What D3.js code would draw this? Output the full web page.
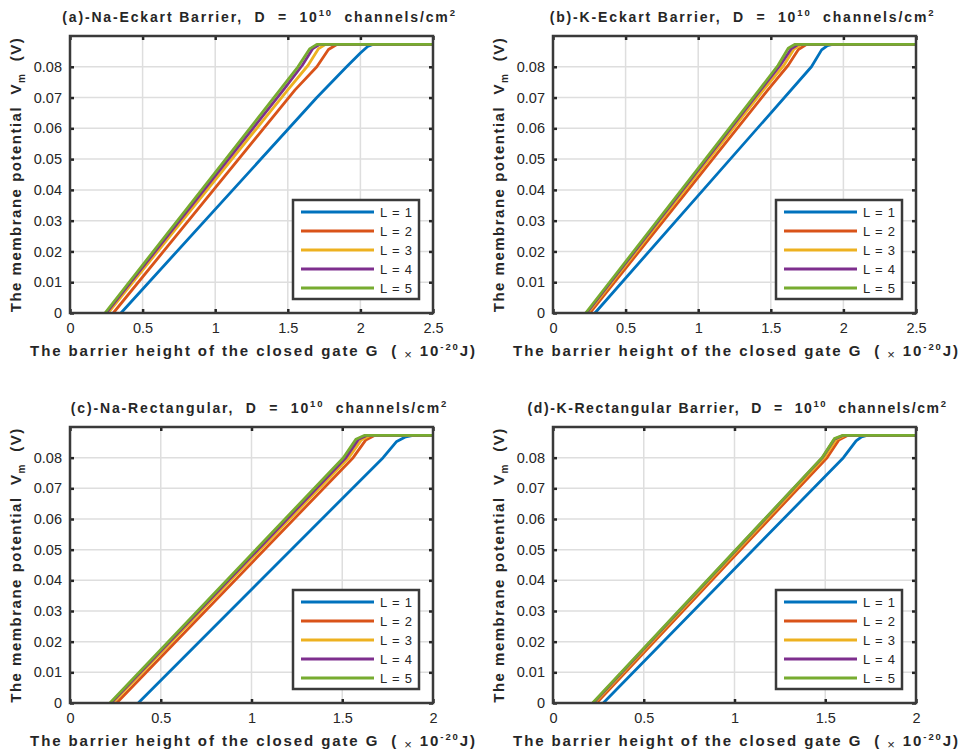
<!DOCTYPE html>
<html>
<head>
<meta charset="utf-8">
<script src="https://cdn.jsdelivr.net/npm/d3@7"></script>
<style>
body { margin: 0; background: #fff; }
svg { display: block; }
text { font-family: "Liberation Sans", Arial, sans-serif; fill: #262626; }
</style>
</head>
<body>
<script>
// legend / tick data
const legendLabels = ["L = 1", "L = 2", "L = 3", "L = 4", "L = 5"];
const yTicks = [0, 0.01, 0.02, 0.03, 0.04, 0.05, 0.06, 0.07, 0.08];
const xTicksEckart = [0, 0.5, 1, 1.5, 2, 2.5];
const xTicksRect = [0, 0.5, 1, 1.5, 2];
const titles = ["(a)-Na-Eckart Barrier,", "(b)-K-Eckart Barrier,", "(c)-Na-Rectangular,", "(d)-K-Rectangular Barrier,"];

// curves, [G, Vm], one list per L
const naEckart = [
  [[0.351, 0], [1.70, 0.070], [1.905, 0.080], [2.00, 0.0845], [2.05, 0.0866], [2.09, 0.0873], [2.5, 0.0873]],
  [[0.298, 0], [1.55, 0.0725], [1.70, 0.080], [1.78, 0.0856], [1.84, 0.0873], [2.5, 0.0873]],
  [[0.262, 0], [1.50, 0.0725], [1.64, 0.0805], [1.71, 0.0858], [1.76, 0.0873], [2.5, 0.0873]],
  [[0.250, 0], [1.47, 0.0725], [1.60, 0.0805], [1.67, 0.0858], [1.72, 0.0873], [2.5, 0.0873]],
  [[0.241, 0], [1.446, 0.0725], [1.57, 0.080], [1.65, 0.0858], [1.70, 0.0873], [2.5, 0.0873]]
];
const kEckart = [
  [[0.289, 0], [1.78, 0.080], [1.85, 0.0855], [1.89, 0.0869], [1.925, 0.0873], [2.5, 0.0873]],
  [[0.255, 0], [1.48, 0.0725], [1.62, 0.0805], [1.69, 0.0856], [1.747, 0.0873], [2.5, 0.0873]],
  [[0.240, 0], [1.45, 0.0725], [1.59, 0.0805], [1.66, 0.0858], [1.713, 0.0873], [2.5, 0.0873]],
  [[0.232, 0], [1.43, 0.0725], [1.565, 0.0805], [1.64, 0.0858], [1.690, 0.0873], [2.5, 0.0873]],
  [[0.225, 0], [1.42, 0.0725], [1.55, 0.0805], [1.62, 0.0860], [1.667, 0.0873], [2.5, 0.0873]]
];
const naRect = [
  [[0.376, 0], [1.725, 0.080], [1.80, 0.0853], [1.85, 0.0868], [1.89, 0.0873], [2, 0.0873]],
  [[0.257, 0], [1.56, 0.080], [1.63, 0.0858], [1.68, 0.0873], [2, 0.0873]],
  [[0.235, 0], [1.536, 0.080], [1.605, 0.0858], [1.655, 0.0873], [2, 0.0873]],
  [[0.226, 0], [1.52, 0.080], [1.59, 0.0860], [1.638, 0.0873], [2, 0.0873]],
  [[0.220, 0], [1.506, 0.080], [1.575, 0.0860], [1.624, 0.0873], [2, 0.0873]]
];
const kRect = [
  [[0.277, 0], [1.60, 0.080], [1.67, 0.0855], [1.70, 0.0868], [1.73, 0.0873], [2, 0.0873]],
  [[0.240, 0], [1.51, 0.080], [1.575, 0.0858], [1.625, 0.0873], [2, 0.0873]],
  [[0.228, 0], [1.494, 0.080], [1.56, 0.0859], [1.61, 0.0873], [2, 0.0873]],
  [[0.222, 0], [1.484, 0.080], [1.55, 0.0860], [1.60, 0.0873], [2, 0.0873]],
  [[0.218, 0], [1.482, 0.080], [1.55, 0.0862], [1.597, 0.0873], [2, 0.0873]]
];

const colors = ["#0072BD", "#D95319", "#EDB120", "#7E2F8E", "#77AC30"];

const panels = [
  {left: 70, top: 36, w: 363, h: 277, xmax: 2.5, xticks: xTicksEckart, data: naEckart, title: titles[0]},
  {left: 553, top: 36, w: 363, h: 277, xmax: 2.5, xticks: xTicksEckart, data: kEckart, title: titles[1]},
  {left: 70, top: 427, w: 363, h: 276, xmax: 2, xticks: xTicksRect, data: naRect, title: titles[2]},
  {left: 553, top: 427, w: 363, h: 276, xmax: 2, xticks: xTicksRect, data: kRect, title: titles[3]}
];

const svg = d3.select("body").append("svg")
  .attr("width", 962)
  .attr("height", 751);

panels.forEach((p, pi) => {
  const g = svg.append("g").attr("transform", "translate(" + p.left + "," + p.top + ")");

  const x = d3.scaleLinear().domain([0, p.xmax]).range([0, p.w]);
  const y = d3.scaleLinear().domain([0, 0.09]).range([p.h, 0]);

  // grid
  g.append("g").selectAll("line").data(p.xticks.slice(1, -1)).join("line")
    .attr("x1", (d) => x(d)).attr("x2", (d) => x(d))
    .attr("y1", 0).attr("y2", p.h)
    .attr("stroke", "#dedede").attr("stroke-width", 1.5);
  g.append("g").selectAll("line").data(yTicks.slice(1)).join("line")
    .attr("x1", 0).attr("x2", p.w)
    .attr("y1", (d) => y(d)).attr("y2", (d) => y(d))
    .attr("stroke", "#dedede").attr("stroke-width", 1.5);

  // curves
  const line = d3.line()
    .x((d) => x(d[0]))
    .y((d) => y(d[1]));

  g.append("g").selectAll("path").data(p.data).join("path")
    .attr("d", (d) => line(d))
    .attr("fill", "none")
    .attr("stroke", (d, i) => colors[i])
    .attr("stroke-width", 2.8)
    .attr("stroke-linejoin", "round");

  // axes, ticks pointing inward
  const fmt = (d) => d === 0 ? "0" : d3.format("")(d);
  const xAxis = g.append("g").attr("transform", "translate(0," + p.h + ")")
    .call(d3.axisBottom(x).tickValues(p.xticks).tickSize(-4).tickPadding(10).tickFormat(fmt));
  const yAxis = g.append("g")
    .call(d3.axisLeft(y).tickValues(yTicks).tickSize(-4).tickPadding(8).tickFormat(fmt));
  g.append("g")
    .call(d3.axisTop(x).tickValues(p.xticks).tickSize(-4).tickFormat(""));
  g.append("g").attr("transform", "translate(" + p.w + ",0)")
    .call(d3.axisRight(y).tickValues(yTicks).tickSize(-4).tickFormat(""));

  g.selectAll(".domain").remove();
  g.selectAll(".tick line").attr("stroke", "#262626").attr("stroke-width", 2.5);
  [xAxis, yAxis].forEach((a) => a.selectAll("text")
    .attr("font-size", 14.5).attr("fill", "#3a3a3a").style("font-family", "Liberation Sans, Arial, sans-serif"));

  // box
  g.append("rect")
    .attr("width", p.w).attr("height", p.h)
    .attr("fill", "none").attr("stroke", "#3a3a3a").attr("stroke-width", 2.5);

  // title
  const t = g.append("text")
    .attr("x", p.w / 2 + (pi == 3 ? 3 : 8)).attr("y", -14)
    .attr("text-anchor", "middle")
    .attr("font-size", 14).attr("font-weight", "bold")
    .attr("xml:space", "preserve")
    .style("letter-spacing", pi == 3 ? "1.6px" : "1.85px");
  t.append("tspan").text(p.title + "  D  =  10");
  t.append("tspan").attr("dy", -6).attr("font-size", 9.5).text("10");
  t.append("tspan").attr("dy", 6).text("  channels/cm");
  t.append("tspan").attr("dy", -6).attr("font-size", 9.5).text("2");

  // y label
  const yl = g.append("text")
    .attr("transform", "translate(-49," + (p.h / 2) + ") rotate(-90)")
    .attr("text-anchor", "middle")
    .attr("font-size", 15).attr("font-weight", "bold")
    .attr("xml:space", "preserve")
    .style("letter-spacing", "1.5px");
  yl.append("tspan").text("The membrane potential  V");
  yl.append("tspan").attr("dy", 4).attr("font-size", 10).text("m");
  yl.append("tspan").attr("dy", -4).text("  (V)");

  // x label
  const xl = g.append("text")
    .attr("x", p.w / 2 + 2).attr("y", p.h + 43)
    .attr("text-anchor", "middle")
    .attr("font-size", 15).attr("font-weight", "bold")
    .attr("xml:space", "preserve")
    .style("letter-spacing", "1.9px");
  xl.append("tspan").text("The barrier height of the closed gate G  ( ");
  xl.append("tspan").attr("font-size", 13).attr("font-weight", "normal").attr("dy", 3).text("\u00d7");
  xl.append("tspan").attr("dy", -3).text(" 10");
  xl.append("tspan").attr("dy", -6).attr("font-size", 9.5).text("-20");
  xl.append("tspan").attr("dy", 6).text("J)");

  // legend
  const lw = 126, lh = 99;
  const lg = g.append("g").attr("transform", "translate(" + (p.w - 14 - lw) + "," + (p.h - 14 - lh) + ")");
  lg.append("rect").attr("width", lw).attr("height", lh)
    .attr("fill", "#fff").attr("stroke", "#3a3a3a").attr("stroke-width", 2.5);
  legendLabels.forEach((lab, i) => {
    const yy = 12 + i * 19;
    lg.append("line").attr("x1", 8).attr("x2", 81).attr("y1", yy).attr("y2", yy)
      .attr("stroke", colors[i]).attr("stroke-width", 2.8);
    lg.append("text").attr("x", 87).attr("y", yy + 4.5)
      .attr("font-size", 13).attr("fill", "#555")
      .attr("xml:space", "preserve")
      .style("letter-spacing", "0.8px").text(lab);
  });
});
</script>
</body>
</html>
